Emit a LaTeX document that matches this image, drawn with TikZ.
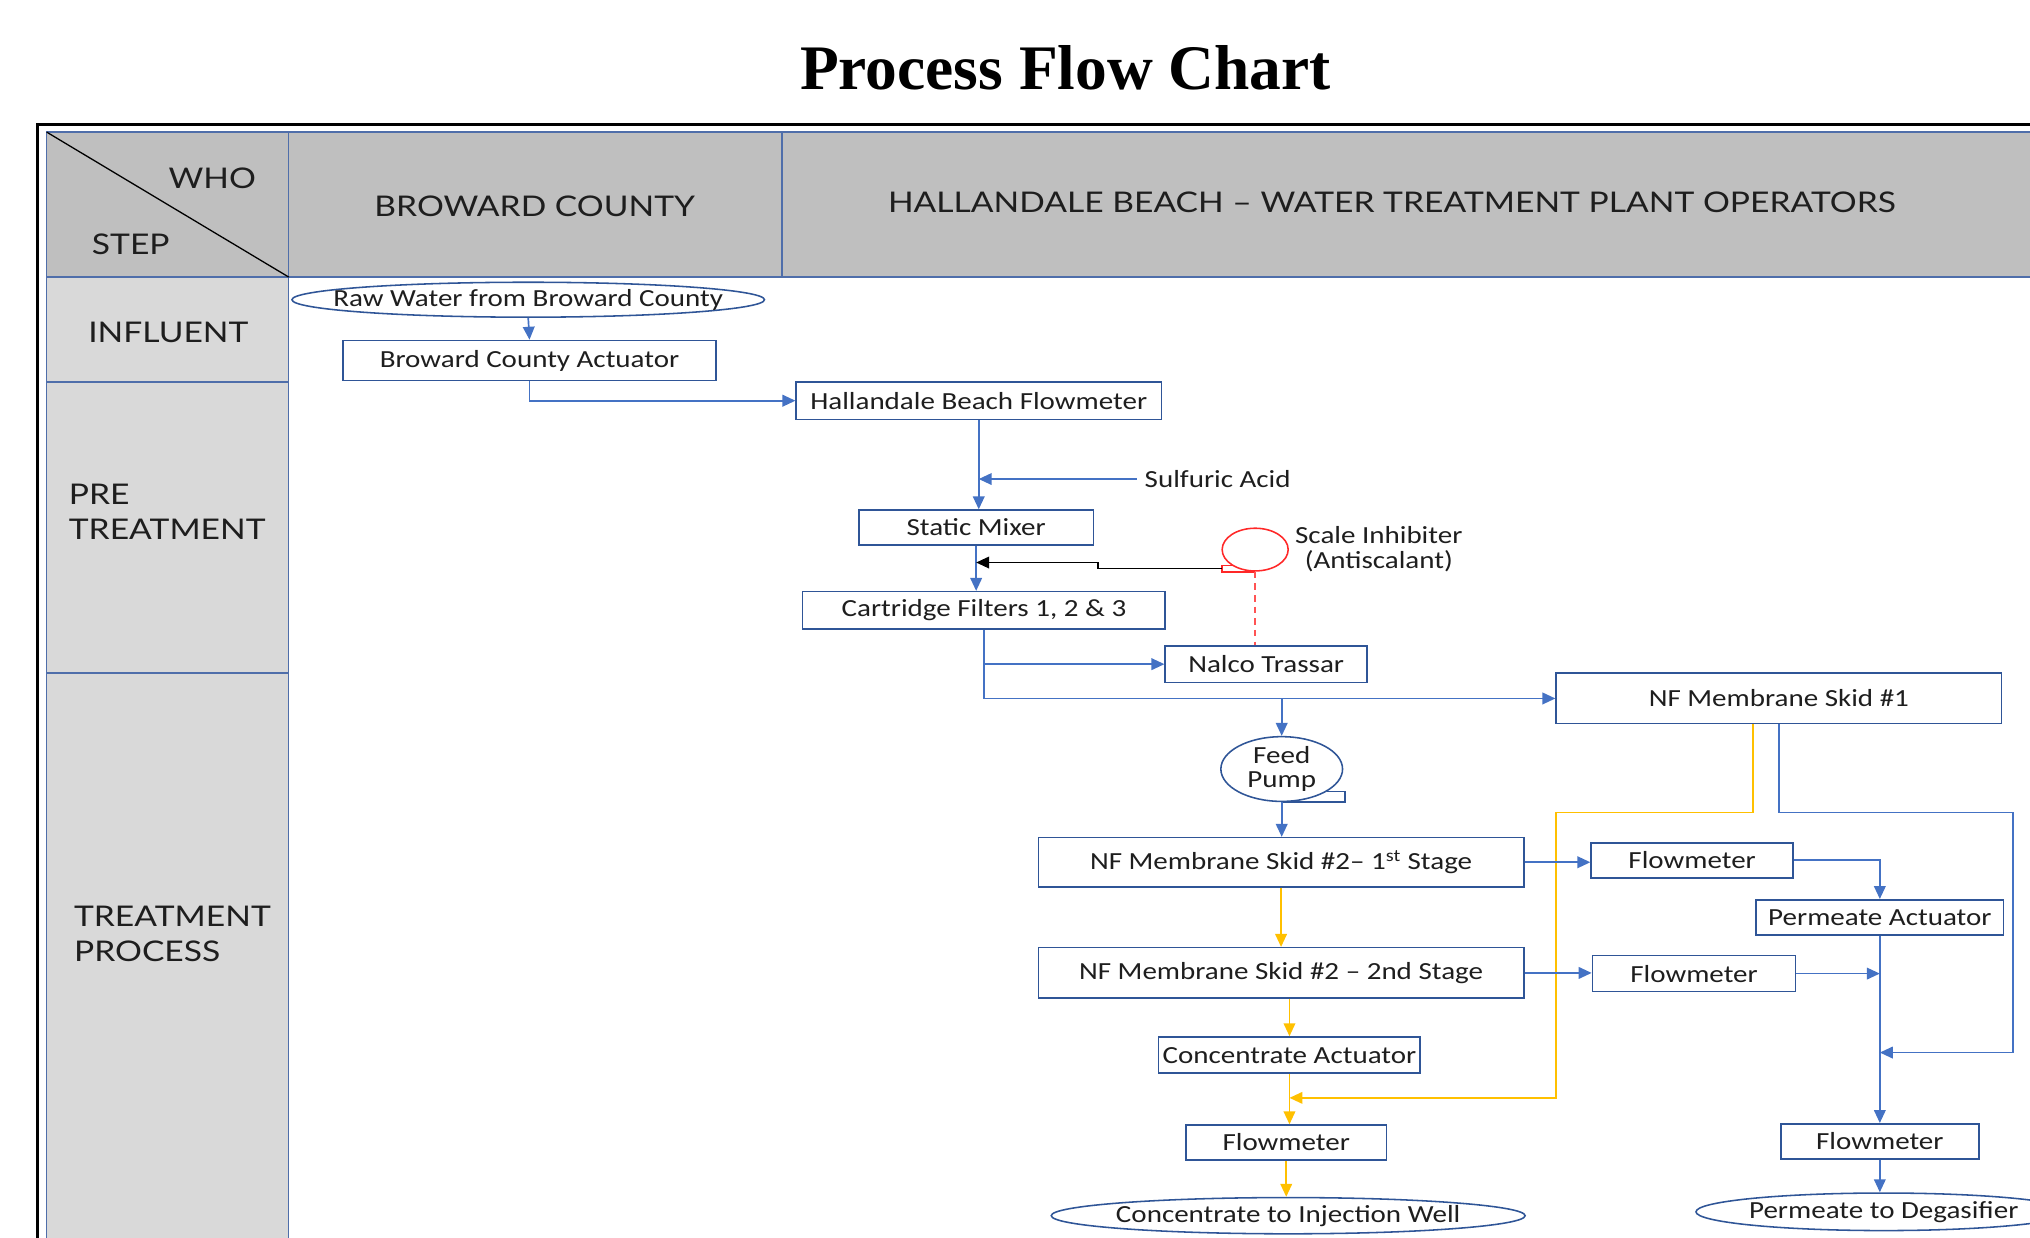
\documentclass[tikz,border=0pt]{standalone}
\usepackage{fontspec}
\setmainfont{Carlito}[FakeStretch=1.18]
\newfontfamily\hdrfont{Lato}[FakeStretch=1.18]
\newfontfamily\titlefont{Liberation Serif}
\usepackage{xcolor}
\definecolor{flowblue}{RGB}{68,114,196}
\definecolor{boxblue}{RGB}{47,85,151}
\definecolor{gridblue}{RGB}{79,110,170}
\definecolor{concyellow}{RGB}{255,192,0}
\definecolor{hdrgray}{RGB}{191,191,191}
\definecolor{lanegray}{RGB}{217,217,217}
\definecolor{textdark}{RGB}{30,30,30}
\definecolor{inhibred}{RGB}{255,40,40}
\usepackage{tikz}
\usetikzlibrary{arrows.meta,shapes.geometric}
\tikzset{
  proc box/.style={draw=boxblue, line width=1.2pt, fill=white, inner sep=0pt, text=textdark, font=\fontsize{19}{22}\selectfont},
  proc term/.style={proc box, ellipse, inner xsep=-50pt, inner ysep=-6pt},
  proc text/.style={text=textdark, inner sep=0pt, align=center, font=\fontsize{19}{19}\selectfont},
  flow edge/.style={-{Triangle[length=10pt,width=9pt]}, flowblue, line width=1.3pt},
  conc edge/.style={flow edge, concyellow},
  hdr text/.style={text=textdark, inner sep=0pt, font=\hdrfont\fontsize{22}{27}\selectfont},
  lane text/.style={hdr text, align=left},
  grid line/.style={gridblue, line width=1.2pt},
}

\begin{document}
\begin{tikzpicture}[x=1pt, y=-1pt]
  \useasboundingbox (0,0) rectangle (1568,956);
  \clip (0,0) rectangle (1568,956);

  % swimlane table
  \fill[hdrgray] (36,102) rectangle (1600,214);
  \fill[lanegray] (36,214) rectangle (223,1000);
  \draw[grid line] (36,1000) -- (36,102) -- (1600,102);
  \draw[grid line] (36,214) -- (1600,214);
  \draw[grid line] (223,102) -- (223,1000);
  \draw[grid line] (604,102) -- (604,214);
  \draw[grid line] (36,295) -- (223,295);
  \draw[grid line] (36,520) -- (223,520);
  \draw[black, line width=1pt] (36,102) -- (223,214);
  \draw[black, line width=2pt] (29,1000) -- (29,96) -- (1600,96);

  \node[font=\titlefont\bfseries\fontsize{49}{55}\selectfont] (title) at (823,52) {Process Flow Chart};

  \node[hdr text] (who) at (164,138) {WHO};
  \node[hdr text] (step) at (101,189) {STEP};
  \node[hdr text] (broward) at (413,159) {BROWARD COUNTY};
  \node[hdr text] (hallandale) at (1075,156) {HALLANDALE BEACH – WATER TREATMENT PLANT OPERATORS};
  \node[hdr text] (influent) at (130,257) {INFLUENT};
  \node[lane text, anchor=west] (pre) at (53,395) {PRE\\TREATMENT};
  \node[lane text, anchor=west] (treat) at (57,721) {TREATMENT\\PROCESS};

  % influent and pre treatment
  \node[proc term, minimum width=365, minimum height=27] (raw) at (408,231.5) {Raw Water from Broward County};
  \node[proc box, minimum width=288, minimum height=31] (bcact) at (409,278.5) {Broward County Actuator};
  \node[proc box, minimum width=282, minimum height=29] (hbflow) at (756,309.5) {Hallandale Beach Flowmeter};
  \node[proc text, anchor=west] (acid) at (884,370) {Sulfuric Acid};
  \node[proc box, minimum width=181, minimum height=27] (mixer) at (754,407.5) {Static Mixer};
  \node[ellipse, draw=inhibred, line width=1.2pt, inner sep=0pt, minimum width=51, minimum height=33] (inhib) at (969.5,424.5) {};
  \node[proc text] (inhibtext) at (1065,424) {Scale Inhibiter\\(Antiscalant)};
  \node[proc box, minimum width=280, minimum height=29] (cart) at (760,471.5) {Cartridge Filters 1, 2 \& 3};
  \node[proc box, minimum width=156, minimum height=28] (nalco) at (978,513) {Nalco Trassar};

  % treatment process
  \node[proc box, minimum width=344, minimum height=39] (skidone) at (1374,539.5) {NF Membrane Skid \#1};
  \node[proc term, proc text, draw=boxblue, line width=1.2pt, minimum width=94, minimum height=50] (pump) at (990,594) {Feed\\Pump};
  \node[proc box, minimum width=375, minimum height=38] (skidtwoa) at (989.5,666) {NF Membrane Skid \#2– 1\textsuperscript{st} Stage};
  \node[proc box, minimum width=375, minimum height=39] (skidtwob) at (989.5,751.5) {NF Membrane Skid \#2 – 2nd Stage};
  \node[proc box, minimum width=202, minimum height=28] (concact) at (996,815) {Concentrate Actuator};
  \node[proc box, minimum width=155, minimum height=27] (concflow) at (993.5,882.5) {Flowmeter};
  \node[proc term, minimum width=366, minimum height=28] (inject) at (995,939) {Concentrate to Injection Well};
  \node[proc box, minimum width=156, minimum height=27] (flowa) at (1307,664.5) {Flowmeter};
  \node[proc box, minimum width=157, minimum height=28] (flowb) at (1308.5,752) {Flowmeter};
  \node[proc box, minimum width=191, minimum height=27] (permact) at (1452,708.5) {Permeate Actuator};
  \node[proc box, minimum width=153, minimum height=27] (permflow) at (1452,881.5) {Flowmeter};
  \node[proc term, minimum width=290, minimum height=29] (degas) at (1455,936) {Permeate to Degasifier};

  % shape tails
  \draw[inhibred, line width=1.2pt] (inhib.south) -- ++(-25.5,0) |- (inhib.-146);
  \draw[boxblue, line width=1.2pt] (pump.south) -- ++(49,0) |- (pump.-26);
  \coordinate (inhibfoot) at (944,439);

  % connectors
  \draw[flow edge] (raw.south) -- (bcact.north);
  \draw[flow edge] (bcact.south) |- (hbflow.west);
  \draw[flow edge] (hbflow.south) -- (hbflow.south |- mixer.north);
  \draw[flow edge] ([xshift=-6pt]acid.west) -- (hbflow.south |- acid.west);
  \draw[flow edge] (mixer.south) -- (mixer.south |- cart.north);
  \draw[-{Triangle[length=10pt,width=9pt]}, black, line width=1.2pt] (inhibfoot) -- ++(-96,0) -- ++(0,-4.5) -- (mixer.south |- 0,434.5);
  \draw[inhibred!80, line width=1.2pt, dash pattern=on 5pt off 4pt] (inhib.south) -- (inhib.south |- nalco.north);
  \draw[flow edge] (cart.south) |- (skidone.west);
  \draw[flow edge] (cart.south |- nalco.west) -- (nalco.west);
  \draw[flow edge] (pump.north |- skidone.west) -- (pump.north);
  \draw[flow edge] (pump.south) -- (pump.south |- skidtwoa.north);
  \draw[conc edge] (skidtwoa.south) -- (skidtwob.north);
  \draw[conc edge] (concact.north |- skidtwob.south) -- (concact.north);
  \draw[conc edge] (concact.south) -- (concact.south |- concflow.north);
  \draw[conc edge] (concflow.south) -- (concflow.south |- inject.north);
  \draw[conc edge] ([xshift=-20pt]skidone.south) -- ++(0,68) -- ++(-152,0) |- (concact.south |- 0,848);
  \draw[flow edge] (skidtwoa.east) -- (flowa.west |- skidtwoa.east);
  \draw[flow edge] (skidtwob.east) -- (flowb.west |- skidtwob.east);
  \draw[flow edge] (flowa.east) -| (permact.north);
  \draw[flow edge] (flowb.east) -- (permact.south |- flowb.east);
  \draw[flow edge] (skidone.south) -- ++(0,68) -- ++(181,0) |- (permact.south |- 0,813);
  \draw[flow edge] (permact.south) -- (permflow.north);
  \draw[flow edge] (permflow.south) -- (permflow.south |- degas.north);
\end{tikzpicture}
\end{document}
